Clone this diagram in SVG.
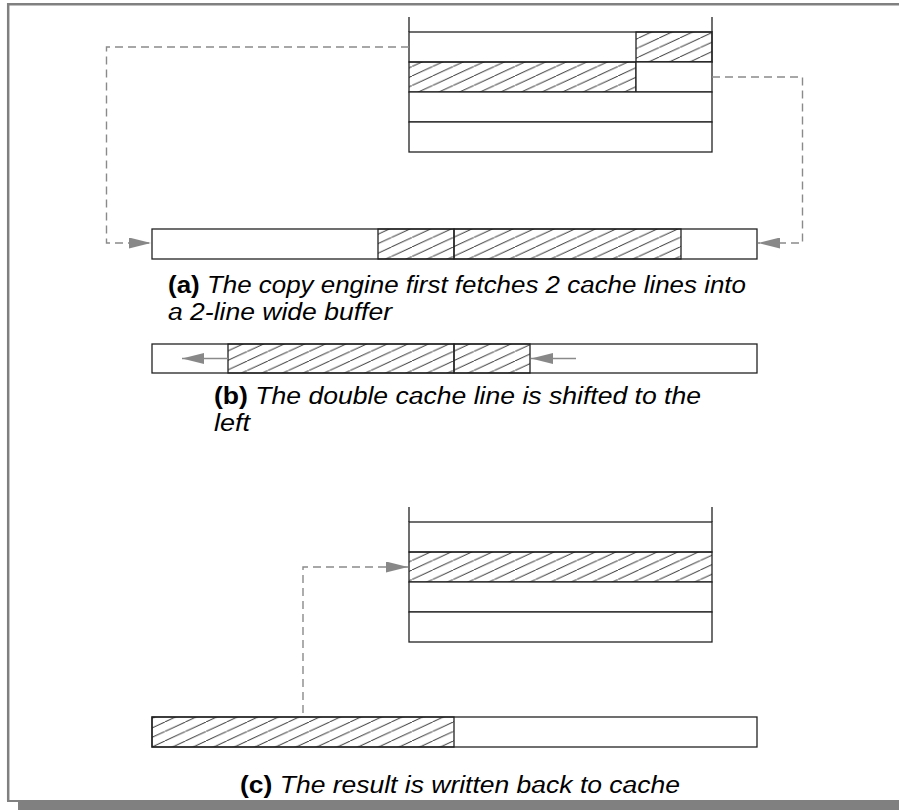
<svg xmlns="http://www.w3.org/2000/svg" width="899" height="810" viewBox="0 0 899 810">
  <defs>
    <pattern id="hatch" patternUnits="userSpaceOnUse" x="0" y="0" width="20.6" height="9.5">
      <path d="M-2,10.42 L22.6,-0.92" stroke="#111" stroke-width="0.9" fill="none"/>
    </pattern>
    <marker id="arr" markerUnits="userSpaceOnUse" markerWidth="22" markerHeight="11" refX="22" refY="5.5" orient="auto">
      <path d="M0,0 L22,5.5 L0,11 Z" fill="#888"/>
    </marker>
  </defs>
  <style>
    .box { fill: #fff; stroke: #222; stroke-width: 1.3; }
    .ln { stroke: #222; stroke-width: 1.3; fill: none; }
    .h { fill: url(#hatch); stroke: #222; stroke-width: 1.3; }
    .dash { fill: none; stroke: #8a8a8a; stroke-width: 1.4; stroke-dasharray: 8 5; }
    .solid { fill: none; stroke: #8a8a8a; stroke-width: 1.4; }
    .cap { font-family: "Liberation Sans", Arial, sans-serif; font-size: 23px; fill: #000; }
    .b { font-weight: bold; }
    .i { font-style: italic; }
  </style>

  <g id="frame">
    <rect x="18" y="800" width="890" height="10" fill="#808080"/>
    <path d="M8.2,801 L8.2,4.2 L899,4.2" fill="none" stroke="#808080" stroke-width="2.5"/>
    <path d="M7,801 L18,801" stroke="#808080" stroke-width="2"/>
  </g>

  <g id="cache-a">
    <rect class="box" x="409" y="32" width="303" height="30"/>
    <rect class="h" x="636" y="32" width="76" height="30"/>
    <rect class="h" x="409" y="62" width="227" height="30"/>
    <rect class="box" x="636" y="62" width="76" height="30"/>
    <rect class="box" x="409" y="92" width="303" height="30"/>
    <rect class="box" x="409" y="122" width="303" height="30"/>
    <path class="ln" d="M409,17 L409,32 M712,17 L712,32"/>
  </g>

  <g id="buffer-a">
    <rect class="box" x="152" y="229" width="605" height="30"/>
    <rect class="h" x="378" y="229" width="76" height="30"/>
    <rect class="h" x="454" y="229" width="227" height="30"/>
  </g>

  <g id="caption-a" class="cap">
    <text x="168" y="293" textLength="578" lengthAdjust="spacingAndGlyphs"><tspan class="b">(a)</tspan><tspan class="i"> The copy engine first fetches 2 cache lines into</tspan></text>
    <text x="168" y="320" class="i" textLength="224" lengthAdjust="spacingAndGlyphs">a 2-line wide buffer</text>
  </g>

  <g id="buffer-b">
    <rect class="box" x="152" y="344" width="605" height="29"/>
    <rect class="h" x="228" y="344" width="226" height="29"/>
    <rect class="h" x="454" y="344" width="76" height="29"/>
  </g>

  <g id="caption-b" class="cap">
    <text x="214" y="404" textLength="487" lengthAdjust="spacingAndGlyphs"><tspan class="b">(b)</tspan><tspan class="i"> The double cache line is shifted to the</tspan></text>
    <text x="214" y="431" class="i" textLength="36" lengthAdjust="spacingAndGlyphs">left</text>
  </g>

  <g id="cache-c">
    <rect class="box" x="409" y="522" width="303" height="30"/>
    <rect class="h" x="409" y="552" width="303" height="30"/>
    <rect class="box" x="409" y="582" width="303" height="30"/>
    <rect class="box" x="409" y="612" width="303" height="30"/>
    <path class="ln" d="M409,507 L409,522 M712,507 L712,522"/>
  </g>

  <g id="buffer-c">
    <rect class="box" x="152" y="717" width="605" height="30"/>
    <rect class="h" x="152" y="717" width="302" height="30"/>
  </g>

  <g id="caption-c" class="cap">
    <text x="240" y="793" textLength="440" lengthAdjust="spacingAndGlyphs"><tspan class="b">(c)</tspan><tspan class="i"> The result is written back to cache</tspan></text>
  </g>

  <g id="connectors">
    <path class="dash" d="M409,47 L106.5,47 L106.5,243 L151,243" marker-end="url(#arr)"/>
    <path class="dash" d="M712,77 L802.5,77 L802.5,243 L758,243" marker-end="url(#arr)"/>
    <path class="solid" d="M228,358.5 L182,358.5" marker-end="url(#arr)"/>
    <path class="solid" d="M576,358.5 L531,358.5" marker-end="url(#arr)"/>
    <path class="dash" d="M303,713 L303,567 L408,567" marker-end="url(#arr)"/>
  </g>
</svg>
